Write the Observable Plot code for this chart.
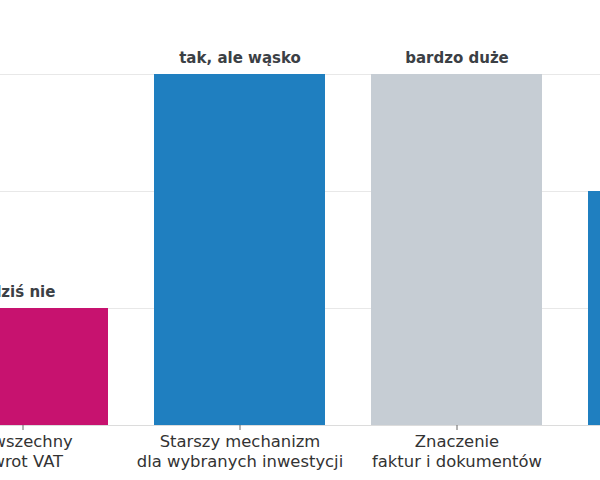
<!DOCTYPE html>
<html>
<head>
<meta charset="utf-8">
<script src="https://cdn.jsdelivr.net/npm/d3@7"></script>
<script src="https://cdn.jsdelivr.net/npm/@observablehq/plot@0.6"></script>
<style>
  html, body { margin: 0; padding: 0; width: 600px; height: 480px; overflow: hidden; background: #fff; }
  #chart { position: absolute; left: -110.5px; top: 0; width: 960px; height: 480px; }
  #chart svg { max-width: none !important; width: 960px; height: 480px; }
</style>
</head>
<body>
<div id="chart"></div>
<script>
const categories = [
  "Powszechny\nzwrot VAT",
  "Starszy mechanizm\ndla wybranych inwestycji",
  "Znaczenie\nfaktur i dokumentów",
  "Nowy mechanizm\ndla inwestycji"
];
const values = [1, 3, 3, 2];
const valueLabels = ["dziś nie", "tak, ale wąsko", "bardzo duże", "tak"];
const colors = ["#c7126f", "#1f7fc0", "#c6cdd4", "#1f7fc0"];
const gridTicks = [1, 2, 3];

const data = categories.map((c, i) => ({cat: c, value: values[i], label: valueLabels[i], color: colors[i]}));

const chart = Plot.plot({
  width: 960,
  height: 480,
  marginLeft: 0,
  marginRight: 43.5,
  marginTop: 74,
  marginBottom: 55,
  style: {fontFamily: "DejaVu Sans, sans-serif", background: "#fff"},
  x: {domain: categories, padding: 0.2138, label: null},
  y: {domain: [0, 3], axis: null},
  marks: [
    Plot.gridY(gridTicks, {stroke: "#e8e8e8", strokeOpacity: 1}),
    Plot.barY(data, {x: "cat", y: "value", fill: "color"}),
    Plot.ruleY([0], {stroke: "#dcdcdc"}),
    Plot.text(data, {x: "cat", y: "value", text: "label", dy: -16, fontSize: 15, fontWeight: "bold", fill: "#3b4045"}),
    Plot.axisX({tickSize: 5, tickPadding: 2, fontSize: 16.4, lineHeight: 1.22, fill: "#333", stroke: "#666", label: null})
  ]
});
document.getElementById("chart").appendChild(chart);
</script>
</body>
</html>
